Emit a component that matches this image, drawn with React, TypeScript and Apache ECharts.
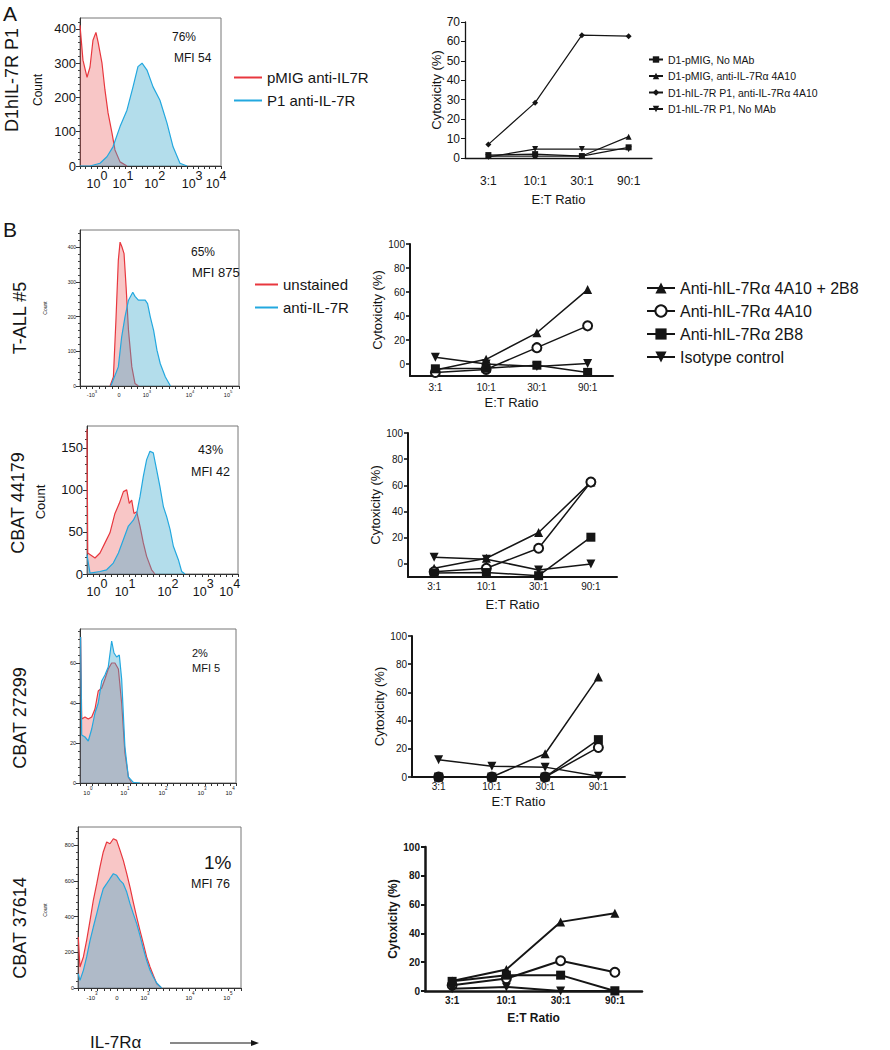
import React, { useEffect, useRef } from 'react';
import * as echarts from 'echarts';

const FONT = '"Liberation Sans", Arial, Helvetica, sans-serif';
const INK = '#151515';
const RED_LINE = '#E8373E';
const BLUE_LINE = '#23A8DF';
const RED_FILL = 'rgba(236,92,92,0.5)';
const BLUE_FILL = 'rgba(62,168,204,0.56)';

// ---------- Histogram data: [channel (0-100 across plot), count] ----------
const histA_red = [[0,411],[2.1,309],[5.0,259],[7.1,289],[9.2,367],[11.3,390],[12.8,362],[15.6,300],[17.7,222],[19.9,155],[22.7,96],[24.8,47],[28.4,12],[33.3,0]];
const histA_blue = [[0,0],[7.1,0],[14.2,8],[19.1,27],[23.4,56],[28.4,115],[33.3,163],[37.6,231],[41.1,290],[44.0,300],[47.5,280],[51.8,231],[56.7,192],[61.7,125],[66.0,56],[70.9,8],[75.9,0]];

const histB1_red = [[18.9,0],[21.0,26],[22.6,189],[24.1,362],[25.2,414],[26.4,400],[27.7,381],[29.0,285],[30.5,160],[32.6,55],[34.6,7],[36.7,0]];
const histB1_blue = [[19.4,0],[24.1,55],[26.2,141],[28.3,199],[30.5,247],[33.2,270],[34.6,258],[36.7,247],[38.9,247],[41.0,247],[42.5,237],[44.2,199],[46.3,160],[48.4,103],[50.5,64],[53.7,26],[56.9,0]];

const histB2_red = [[0,172],[0.5,25],[5.3,19],[8.6,25],[11.9,37],[15.2,49],[18.5,72],[21.4,84],[24.1,98],[26.3,100],[28.0,84],[29.6,88],[31.1,72],[32.9,74],[35.1,57],[37.3,37],[39.5,21],[42.8,5],[45.0,0]];
const histB2_blue = [[0,23],[2.0,1],[8.6,3],[13.0,5],[17.4,13],[20.8,25],[24.1,41],[27.4,57],[30.7,64],[32.9,72],[35.1,92],[37.3,116],[39.5,136],[41.7,146],[43.9,144],[46.1,124],[48.3,104],[50.6,80],[52.8,68],[55.0,53],[57.2,33],[60.5,17],[62.7,3],[64.9,0]];

const histB3_red = [[0.4,73],[1.1,32],[3.2,33],[5.3,32],[7.5,33],[9.6,37],[11.7,46],[13.9,47.5],[16.0,52],[18.1,57],[20.3,60],[22.4,60],[24.6,57],[26.7,40],[28.8,15],[31.0,3],[33.1,0]];
const histB3_blue = [[0.4,73],[1.1,24],[3.2,23],[5.3,21],[7.5,27],[9.6,35],[11.7,40],[13.9,51],[16.0,54],[18.1,58],[20.3,71],[21.8,65],[23.5,63],[25.2,64],[26.7,52],[28.8,18],[31.0,3],[34.2,0.3],[38.5,0]];

const histB4_red = [[0.2,286],[1.2,118],[3.3,174],[5.3,267],[7.4,379],[9.4,492],[11.5,585],[13.5,679],[15.5,763],[17.6,819],[19.6,809],[21.7,837],[23.7,828],[25.8,772],[27.8,716],[29.9,641],[31.9,566],[33.9,482],[36.0,398],[38.0,323],[40.1,249],[42.1,174],[44.2,118],[46.2,71],[48.3,24],[51.3,0]];
const histB4_blue = [[0.2,80],[1.2,43],[3.3,99],[5.3,174],[7.4,267],[9.4,342],[11.5,417],[13.5,492],[15.5,557],[17.6,585],[19.6,613],[21.7,641],[23.7,632],[25.8,604],[27.8,585],[29.9,538],[31.9,473],[33.9,417],[36.0,361],[38.0,295],[40.1,221],[42.1,155],[44.2,99],[46.2,62],[48.3,28],[51.3,0]];

// ---------- Histogram tick labels ----------
const decadeLabels = [['10','0'],['10','1'],['10','2'],['10','3'],['10','4']];
const biexpLabels = [['-10','3'],['0',''],['10','3'],['10','4'],['10','5']];
const histA_xTicks = [12, 30.5, 53, 79.5, 96.5];
const histB1_xTicks = [7.5, 24.5, 42.1, 69.2, 93.1];
const histB2_xTicks = [6.6, 25.2, 53.6, 77, 94.5];
const histB3_xTicks = [5.1, 28.8, 53.2, 78.2, 96.2];
const histB4_xTicks = [8.6, 23.9, 41.1, 68.7, 92];
const histA_yTicks = [0, 100, 200, 300, 400];
const histB1_yTicks = [0, 100, 200, 300, 400];
const histB2_yTicks = [0, 50, 100, 150];
const histB3_yTicks = [0, 20, 40, 60];
const histB4_yTicks = [0, 200, 400, 600, 800];

// ---------- Cytotoxicity data ----------
const ratios = ['3:1', '10:1', '30:1', '90:1'];
const A_names = ['D1-pMIG, No MAb', 'D1-pMIG, anti-IL-7Rα 4A10', 'D1-hIL-7R P1, anti-IL-7Rα 4A10', 'D1-hIL-7R P1, No MAb'];
const A_pmigNoMab = [1.5, 2, 1, 5.5];
const A_pmig4A10 = [1, 1, 1, 11];
const A_p1_4A10 = [7, 28.5, 63.2, 62.7];
const A_p1NoMab = [0.5, 4.6, 4.6, 4.5];
const A_yTicks = [0, 10, 20, 30, 40, 50, 60, 70];

const B_names = ['Anti-hIL-7Rα 4A10 + 2B8', 'Anti-hIL-7Rα 4A10', 'Anti-hIL-7Rα 2B8', 'Isotype control'];
const B1_combo = [-5, 3.9, 26, 62];
const B1_4A10 = [-7, -4.5, 13.6, 31.8];
const B1_2B8 = [-4, -3.6, -1, -7];
const B1_iso = [5.6, 0, -2, 0.5];
const B2_combo = [-3.3, 4.3, 24, 62.5];
const B2_4A10 = [-6, -3.3, 12, 62.5];
const B2_2B8 = [-7, -6.6, -9, 20.4];
const B2_iso = [5, 3.6, -4.6, 0];
const B3_combo = [0, 0, 16.5, 71];
const B3_4A10 = [0, 0, 0, 21];
const B3_2B8 = [0, 0, 0, 26.5];
const B3_iso = [12.3, 7.6, 7, 0.5];
const B4_combo = [7, 15, 48, 54];
const B4_4A10 = [4, 8.6, 21, 13];
const B4_2B8 = [6.7, 11, 11, 0];
const B4_iso = [1.6, 2.8, 0, 0];
const B_yTicks = [0, 20, 40, 60, 80, 100];

function buildOption() {
  const grids: any[] = [];
  const xAxes: any[] = [];
  const yAxes: any[] = [];
  const series: any[] = [];

  const hists = [
    { grid: { left: 80, top: 18, width: 141, height: 148 }, yMax: 432, yInt: 100, yTicks: histA_yTicks, yFont: 13, xFont: 12.5, supSame: true, xTicks: histA_xTicks, xLabels: decadeLabels, red: histA_red, blue: histA_blue, redName: 'pMIG anti-IL7R', blueName: 'P1 anti-IL-7R' },
    { grid: { left: 80, top: 230, width: 159, height: 156 }, yMax: 449, yInt: 100, yTicks: histB1_yTicks, yFont: 5, xFont: 5.5, supSame: false, xTicks: histB1_xTicks, xLabels: biexpLabels, red: histB1_red, blue: histB1_blue, redName: 'unstained', blueName: 'anti-IL-7R' },
    { grid: { left: 87, top: 426, width: 151, height: 148 }, yMax: 176, yInt: 50, yTicks: histB2_yTicks, yFont: 13, xFont: 12.5, supSame: true, xTicks: histB2_xTicks, xLabels: decadeLabels, red: histB2_red, blue: histB2_blue, redName: 'CBAT 44179 unstained', blueName: 'CBAT 44179 anti-IL-7R' },
    { grid: { left: 80, top: 629, width: 156, height: 154 }, yMax: 77, yInt: 20, yTicks: histB3_yTicks, yFont: 5.5, xFont: 6, supSame: false, xTicks: histB3_xTicks, xLabels: decadeLabels, red: histB3_red, blue: histB3_blue, redName: 'CBAT 27299 unstained', blueName: 'CBAT 27299 anti-IL-7R' },
    { grid: { left: 78, top: 827, width: 163, height: 161 }, yMax: 903, yInt: 200, yTicks: histB4_yTicks, yFont: 5.5, xFont: 6, supSame: false, xTicks: histB4_xTicks, xLabels: biexpLabels, red: histB4_red, blue: histB4_blue, redName: 'CBAT 37614 unstained', blueName: 'CBAT 37614 anti-IL-7R' },
  ];

  const minorX: number[] = [];
  for (let v = 0; v <= 100; v += 4) minorX.push(v);

  hists.forEach((h, i) => {
    grids.push({ ...h.grid, show: true, borderColor: '#777', borderWidth: 1, backgroundColor: 'transparent' });
    const supSize = h.supSame ? h.xFont : h.xFont * 0.75;
    xAxes.push({
      type: 'value', gridIndex: i, min: 0, max: 100,
      splitLine: { show: false },
      axisLine: { show: true, lineStyle: { color: '#333', width: 1 } },
      axisTick: { show: true, customValues: minorX, length: 3, lineStyle: { color: '#333' } },
      axisLabel: {
        customValues: h.xTicks, margin: 3, color: INK, fontFamily: FONT,
        showMinLabel: true, showMaxLabel: true, hideOverlap: false,
        formatter: (v: number) => {
          let idx = 0; let best = 1e9;
          h.xTicks.forEach((t, k) => { const d = Math.abs(t - v); if (d < best) { best = d; idx = k; } });
          const [b, s] = h.xLabels[idx];
          return s ? `{b|${b}}{s|${s}}` : `{b|${b}}`;
        },
        rich: {
          b: { fontSize: h.xFont, fontFamily: FONT, color: INK, lineHeight: h.xFont * 1.7, verticalAlign: 'bottom' },
          s: { fontSize: supSize, fontFamily: FONT, color: INK, lineHeight: supSize, verticalAlign: 'top' },
        },
      },
    });
    yAxes.push({
      type: 'value', gridIndex: i, min: 0, max: h.yMax, interval: h.yInt,
      splitLine: { show: false },
      axisLine: { show: true, lineStyle: { color: '#333', width: 1 } },
      axisTick: { show: true, customValues: h.yTicks, length: 4, lineStyle: { color: '#333' } },
      minorTick: { show: true, splitNumber: 5, length: 2, lineStyle: { color: '#444' } },
      axisLabel: { customValues: h.yTicks, fontSize: h.yFont, color: INK, fontFamily: FONT, margin: 4, showMinLabel: true, showMaxLabel: true },
    });
    series.push({
      type: 'line', name: h.redName, xAxisIndex: i, yAxisIndex: i, data: h.red,
      symbol: 'none', color: RED_LINE, lineStyle: { color: RED_LINE, width: 1.2 },
      areaStyle: { color: RED_FILL, origin: 'start' }, z: 2, silent: true,
    });
    series.push({
      type: 'line', name: h.blueName, xAxisIndex: i, yAxisIndex: i, data: h.blue,
      symbol: 'none', color: BLUE_LINE, lineStyle: { color: BLUE_LINE, width: 1.2 },
      areaStyle: { color: BLUE_FILL, origin: 'start' }, z: 3, silent: true,
    });
  });

  const symbolsA = [
    { symbol: 'rect', rotate: 0 }, { symbol: 'triangle', rotate: 0 }, { symbol: 'diamond', rotate: 0 }, { symbol: 'triangle', rotate: 180 },
  ];
  const symbolsB = [
    { symbol: 'triangle', rotate: 0 }, { symbol: 'emptyCircle', rotate: 0 }, { symbol: 'rect', rotate: 0 }, { symbol: 'triangle', rotate: 180 },
  ];

  const lines = [
    { grid: { left: 465, top: 22, width: 187, height: 136 }, yMin: 0, yMax: 70, yTicks: A_yTicks, font: 12, bold: false, symSize: 6, lw: 1.2, axW: 1.3, labelMargin: 17, xGap: 35, yGap: 20, nameFont: 13, names: A_names, syms: symbolsA, data: [A_pmigNoMab, A_pmig4A10, A_p1_4A10, A_p1NoMab] },
    { grid: { left: 410, top: 244, width: 203, height: 132 }, yMin: -10, yMax: 100, yTicks: B_yTicks, font: 10, bold: false, symSize: 9, lw: 1.5, axW: 2, labelMargin: 6, xGap: 20, yGap: 22, nameFont: 13, names: B_names, syms: symbolsB, data: [B1_combo, B1_4A10, B1_2B8, B1_iso] },
    { grid: { left: 408, top: 433, width: 209, height: 144 }, yMin: -10, yMax: 100, yTicks: B_yTicks, font: 10, bold: false, symSize: 9, lw: 1.5, axW: 2, labelMargin: 4, xGap: 21, yGap: 24, nameFont: 13, names: B_names, syms: symbolsB, data: [B2_combo, B2_4A10, B2_2B8, B2_iso] },
    { grid: { left: 412, top: 636, width: 213, height: 141 }, yMin: 0, yMax: 100, yTicks: B_yTicks, font: 10, bold: false, symSize: 9, lw: 1.5, axW: 2, labelMargin: 4, xGap: 18, yGap: 20, nameFont: 13, names: B_names, syms: symbolsB, data: [B3_combo, B3_4A10, B3_2B8, B3_iso] },
    { grid: { left: 425, top: 847, width: 217, height: 144 }, yMin: 0, yMax: 100, yTicks: B_yTicks, font: 10, bold: true, symSize: 9, lw: 2, axW: 2.5, labelMargin: 4, xGap: 21, yGap: 26, nameFont: 12, names: B_names, syms: symbolsB, data: [B4_combo, B4_4A10, B4_2B8, B4_iso] },
  ];

  lines.forEach((l, j) => {
    const gi = hists.length + j;
    grids.push({ ...l.grid });
    const fw = l.bold ? 'bold' : 'normal';
    xAxes.push({
      type: 'category', gridIndex: gi, data: ratios, boundaryGap: true,
      name: 'E:T Ratio', nameLocation: 'middle', nameGap: l.xGap,
      nameTextStyle: { fontSize: l.nameFont, fontFamily: FONT, color: INK, fontWeight: fw },
      axisLine: { show: true, onZero: false, lineStyle: { color: INK, width: l.axW } },
      axisTick: { show: false },
      axisLabel: { fontSize: l.font, fontFamily: FONT, color: INK, fontWeight: fw, margin: l.labelMargin },
      splitLine: { show: false },
    });
    yAxes.push({
      type: 'value', gridIndex: gi, min: l.yMin, max: l.yMax,
      name: 'Cytoxicity (%)', nameLocation: 'middle', nameGap: l.yGap, nameRotate: 90,
      nameTextStyle: { fontSize: l.nameFont, fontFamily: FONT, color: INK, fontWeight: fw },
      axisLine: { show: true, lineStyle: { color: INK, width: l.axW } },
      axisTick: { show: true, customValues: l.yTicks, length: 4, lineStyle: { color: INK, width: l.axW * 0.8 } },
      axisLabel: { customValues: l.yTicks, fontSize: l.font, fontFamily: FONT, color: INK, fontWeight: fw, margin: 5, showMinLabel: true, showMaxLabel: true },
      splitLine: { show: false },
    });
    l.data.forEach((d, k) => {
      const s = l.syms[k];
      series.push({
        type: 'line', name: l.names[k], xAxisIndex: gi, yAxisIndex: gi, data: d,
        symbol: s.symbol, symbolRotate: s.rotate, symbolSize: l.symSize,
        color: INK, lineStyle: { color: INK, width: l.lw },
        itemStyle: { color: INK, borderColor: INK, borderWidth: s.symbol === 'emptyCircle' ? 2 : 0 },
        z: 5 + k, silent: true,
      });
    });
  });

  const txt = (text: string, x: number, y: number, fontSize: number, opts: any = {}) => ({
    type: 'text', x, y, rotation: opts.rotation || 0, silent: true,
    style: { text, fontSize, fontFamily: FONT, fill: INK, align: opts.align || 'left', verticalAlign: 'middle', fontWeight: opts.weight || 'normal' },
  });
  const rot = Math.PI / 2;

  const graphic = [
    txt('A', 3, 13, 21),
    txt('B', 3, 229, 21),
    txt('D1hIL-7R P1', 12, 80, 18, { rotation: rot, align: 'center' }),
    txt('T-ALL #5', 20, 318, 18, { rotation: rot, align: 'center' }),
    txt('CBAT 44179', 18, 503, 18, { rotation: rot, align: 'center' }),
    txt('CBAT 27299', 20, 718, 18, { rotation: rot, align: 'center' }),
    txt('CBAT 37614', 20, 928, 18, { rotation: rot, align: 'center' }),
    txt('Count', 38, 90, 12, { rotation: rot, align: 'center' }),
    txt('Count', 45, 308, 5, { rotation: rot, align: 'center' }),
    txt('Count', 40, 502, 13, { rotation: rot, align: 'center' }),
    txt('Count', 45, 910, 5, { rotation: rot, align: 'center' }),
    txt('76%', 172, 37, 12),
    txt('MFI 54', 174, 58, 12),
    txt('65%', 191, 252, 12),
    txt('MFI 875', 192, 272, 13),
    txt('43%', 198, 450, 12.5),
    txt('MFI 42', 191, 472, 12.5),
    txt('2%', 192, 653, 11),
    txt('MFI 5', 192, 668, 11),
    txt('1%', 204, 862, 19),
    txt('MFI 76', 191, 884, 12.5),
    txt('IL-7Rα', 90, 1042, 17),
    { type: 'line', silent: true, shape: { x1: 170, y1: 1043, x2: 254, y2: 1043 }, style: { stroke: INK, lineWidth: 1.2 } },
    { type: 'polygon', silent: true, shape: { points: [[259, 1043], [251, 1040], [251, 1046]] }, style: { fill: INK } },
  ];

  const legendText = (size: number) => ({ fontSize: size, fontFamily: FONT, color: INK });

  const legend = [
    { orient: 'vertical', left: 229, top: 65, itemWidth: 28, itemHeight: 2, itemGap: 8, selectedMode: false, textStyle: legendText(15),
      data: [{ name: 'pMIG anti-IL7R', icon: 'rect' }, { name: 'P1 anti-IL-7R', icon: 'rect' }] },
    { orient: 'vertical', left: 250, top: 272, itemWidth: 23, itemHeight: 2, itemGap: 8, selectedMode: false, textStyle: legendText(15),
      data: [{ name: 'unstained', icon: 'rect' }, { name: 'anti-IL-7R', icon: 'rect' }] },
    { orient: 'vertical', left: 643, top: 49, itemWidth: 14, itemHeight: 8, itemGap: 5.5, selectedMode: false, textStyle: legendText(10.5),
      data: A_names },
    { orient: 'vertical', left: 641, top: 275, itemWidth: 28, itemHeight: 14, itemGap: 7, selectedMode: false, textStyle: legendText(16),
      data: B_names },
  ];

  return {
    animation: false,
    backgroundColor: '#ffffff',
    textStyle: { fontFamily: FONT },
    grid: grids,
    xAxis: xAxes,
    yAxis: yAxes,
    series,
    legend,
    graphic,
  };
}

export default function App() {
  const ref = useRef<HTMLDivElement>(null);
  useEffect(() => {
    if (!ref.current) return;
    const chart = echarts.init(ref.current, null, { renderer: 'svg' });
    chart.setOption(buildOption() as any);
    return () => chart.dispose();
  }, []);
  return <div ref={ref} style={{ position: 'absolute', left: 0, top: 0, width: 890, height: 1050, background: '#fff' }} />;
}
